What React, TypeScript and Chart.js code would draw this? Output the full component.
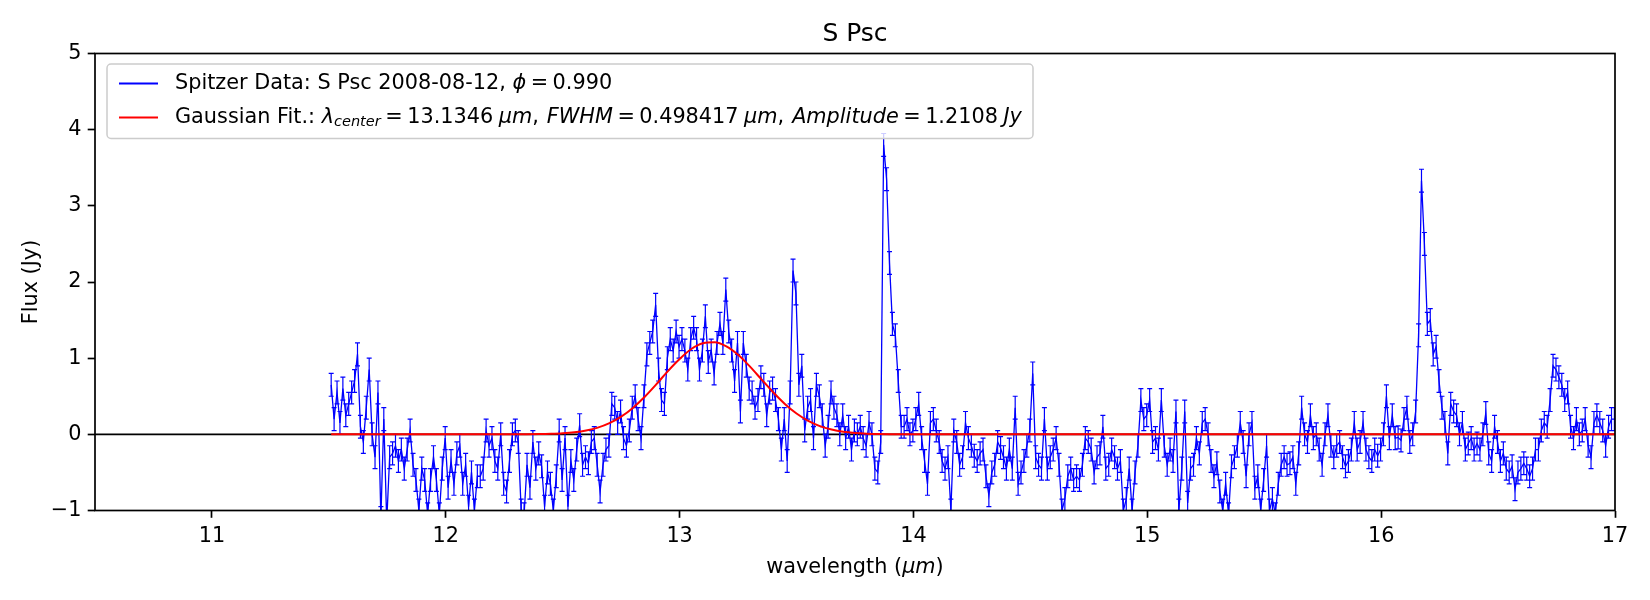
import React, { useEffect, useRef } from 'react';
import { Chart, registerables } from 'chart.js';

Chart.register(...registerables);

// wavelength grid of the Spitzer spectrum (um)
const WL_START = 11.51;
const WL_STEP = 0.0125;

// flux (Jy)
const FLUX_1150_1240 = [
  0.65, 0.2, 0.55, 0.15, 0.6, 0.25, 0.4, 0.55, 0.7, 1.05,
  0.1, -0.1, 0.35, 0.85, 0.0, -0.3, 0.55, -1.1, 0.2, -1.15,
  -0.3, -0.25, -0.15, -0.35, -0.2, -0.45, -0.2, 0.05, -0.4, -0.6,
  -1.0, -0.45, -0.6, -1.05, -0.6, -0.3, -0.6, -1.05, -0.45, -0.05,
  -0.7, -0.35, -0.65, -0.25, -0.15, -0.65, -0.4, -0.95, -0.5, -1.0,
  -0.55, -0.55, -0.45, 0.05, -0.15, -0.05, -0.35, -0.45, 0.0, -0.65,
  -0.75, -0.35, 0.0, 0.05, -0.1, -1.0, -1.05, -0.4, -0.7, -0.1,
  -0.45, -0.25,
];
const FLUX_1241_1331 = [
  -0.42, -0.95, -0.5, -0.65, -1.0, -0.55, 0.05, -0.6, -0.05, -0.95,
  -0.35, -0.6, -0.2, 0.12, -0.4, -0.3, -0.38, -0.1, -0.05, -0.4,
  -0.75, -0.4, -0.2, -0.15, 0.4, 0.35, 0.15, 0.3, -0.05, -0.15,
  0.05, 0.35, 0.5, 0.2, -0.05, 0.5, 1.05, 1.2, 1.35, 1.7,
  0.85, 0.45, 0.4, 1.0, 1.25, 1.1, 1.35, 1.15, 1.25, 1.1,
  0.85, 1.25, 1.4, 1.25, 0.85, 1.1, 1.55, 0.95, 1.1, 0.8,
  1.2, 1.45, 1.2, 1.9, 1.35, 1.1, 0.7, 1.2, 0.3, 1.2,
  0.9, 0.6, 0.55,
];
const FLUX_1332_1424 = [
  0.35, 0.45, 0.75, 0.65, 0.25, 0.55, 0.6, 0.45, 0.2, -0.2,
  0.2, -0.35, 0.55, 2.15, 1.85, 0.65, 0.9, 0.05, 0.35, 0.45,
  -0.05, 0.65, 0.5, 0.25, -0.15, 0.1, 0.55, 0.35, 0.25, 0.0,
  0.25, -0.05, 0.1, -0.2, 0.05, 0.0, 0.1, -0.05, -0.15, 0.15,
  0.0, -0.45, -0.5, -0.1, 3.8, 3.35, 2.25, 1.45, 1.3, 0.7,
  0.1, 0.1, 0.2, 0.0, 0.05, 0.2, 0.4, -0.05, -0.35, -0.65,
  0.15, 0.2, 0.05, -0.1, -0.35, -0.45, -0.3, -1.0, 0.05, -0.1,
  -0.4, -0.3, 0.15, -0.05,
];
const FLUX_1425_1515 = [
  -0.15, -0.28, -0.35, -0.25, -0.2, -0.55, -0.8, -0.5, -0.4, -0.1,
  -0.18, -0.3, -0.45, -0.2, -0.45, 0.35, -0.65, -0.5, -0.35, -0.15,
  0.05, 0.8, -0.3, -0.4, -0.45, 0.2, -0.45, -0.3, -0.2, -0.05,
  -0.4, -1.0, -0.85, -0.55, -0.45, -0.6, -0.55, -0.6, -0.4, -0.05,
  -0.1, -0.2, -0.5, -0.3, -0.25, 0.1, -0.45, -0.4, -0.2, -0.3,
  -0.45, -0.35, -1.0, -0.85, -0.45, -1.0, -0.5, -0.15, 0.45, 0.2,
  0.25, 0.45, -0.1, -0.05, -0.2, 0.45, -0.15, -0.4, -0.2, -0.35,
  0.3, -1.0, -0.45,
];
const FLUX_1516_1606 = [
  0.3, -0.9, -0.45, -0.4, -0.05, -0.25, 0.15, 0.2, 0.0, -0.35,
  -0.55, -0.38, -0.75, -1.0, -0.65, -1.05, -0.42, -0.3, -0.15, 0.15,
  -0.1, -0.55, 0.0, 0.15, -0.7, -0.55, -1.0, -0.6, -0.15, -1.0,
  -0.85, -1.05, -0.65, -0.4, -0.3, -0.4, -0.38, -0.3, -0.65, -0.25,
  0.35, 0.0, -0.1, 0.25, -0.05, 0.0, -0.2, -0.4, 0.0, 0.25,
  -0.15, -0.3, -0.15, -0.1, -0.3, -0.42, -0.35, -0.2, 0.15, -0.2,
  -0.1, 0.15, -0.2, -0.3, -0.35, -0.2, -0.28, -0.2, 0.0, 0.5,
  -0.05, 0.25, -0.05,
];
const FLUX_1607_1700 = [
  -0.04, -0.08, 0.2, 0.35, -0.1, 0.0, 0.3, 1.3, 3.33, 2.5,
  1.45, 1.5, 1.05, 1.15, 0.7, 0.35, 0.15, -0.25, 0.4, 0.3,
  0.25, 0.0, 0.15, -0.2, -0.12, -0.05, -0.2, -0.12, -0.2, 0.0,
  0.28, -0.25, -0.35, 0.1, -0.1, -0.35, -0.25, -0.45, -0.5, -0.42,
  -0.72, -0.5, -0.45, -0.38, -0.45, -0.55, -0.45, -0.2, -0.2, 0.05,
  0.15, 0.1, 0.45, 0.9, 0.85, 0.75, 0.65, 0.45, 0.55, 0.1,
  -0.05, 0.2, 0.0, 0.05, 0.2, -0.15, -0.3, 0.15, 0.25, 0.15,
  0.05, -0.15, 0.1, 0.2, 0.2,
];
const FLUX_ERR = 0.15;

// gaussian fit curve
const FIT_WL = [
  11.51, 12.3, 12.4, 12.45, 12.5, 12.55, 12.6, 12.65, 12.7, 12.75,
  12.8, 12.85, 12.9, 12.95, 13.0, 13.05, 13.1, 13.15, 13.2, 13.25,
  13.3, 13.35, 13.4, 13.45, 13.5, 13.55, 13.6, 13.65, 13.7, 13.75,
  13.8, 13.85, 13.95, 17.0,
];
const FIT_FLUX = [
  0, 0, 0.003, 0.007, 0.014, 0.027, 0.05, 0.088, 0.147, 0.233,
  0.347, 0.49, 0.655, 0.83, 0.989, 1.12, 1.195, 1.208, 1.154, 1.044,
  0.892, 0.722, 0.552, 0.399, 0.273, 0.177, 0.108, 0.063, 0.034, 0.018,
  0.009, 0.004, 0.001, 0,
];

const X_TICKS = [11, 12, 13, 14, 15, 16, 17];
const Y_TICKS = [-1, 0, 1, 2, 3, 4, 5];

const FONT = "'DejaVu Sans', sans-serif";
const FS = 20.8;

const FLUX = [
  ...FLUX_1150_1240, ...FLUX_1241_1331, ...FLUX_1332_1424,
  ...FLUX_1425_1515, ...FLUX_1516_1606, ...FLUX_1607_1700,
];
const WL = FLUX.map((_, i) => WL_START + i * WL_STEP);

// text piece: italic / subscript / extra gap after (px)
type Seg = { t: string; it?: boolean; sub?: boolean; gap?: number };

function drawSegs(ctx: CanvasRenderingContext2D, segs: Seg[], x: number, y: number, measureOnly = false) {
  let cx = x;
  for (const s of segs) {
    const size = s.sub ? FS * 0.7 : FS;
    ctx.font = `${s.it ? 'italic ' : ''}${size}px ${FONT}`;
    if (!measureOnly && s.t) ctx.fillText(s.t, cx, s.sub ? y + 5 : y);
    cx += (s.t ? ctx.measureText(s.t).width : 0) + (s.gap || 0);
  }
  return cx - x;
}

const EQ: Seg[] = [{ t: '', gap: 4.5 }, { t: '=', gap: 4.5 }];

const LEGEND_ROWS: { color: string; segs: Seg[] }[] = [
  {
    color: '#0000ff',
    segs: [{ t: 'Spitzer Data: S Psc 2008-08-12, ' }, { t: 'ϕ', it: true }, ...EQ, { t: '0.990' }],
  },
  {
    color: '#ff0000',
    segs: [
      { t: 'Gaussian Fit.: ' }, { t: 'λ', it: true }, { t: 'center', it: true, sub: true },
      ...EQ, { t: '13.1346', gap: 5.5 }, { t: 'μm', it: true }, { t: ',', gap: 8 }, { t: 'FWHM', it: true },
      ...EQ, { t: '0.498417', gap: 5.5 }, { t: 'μm', it: true }, { t: ',', gap: 8 }, { t: 'Amplitude', it: true },
      ...EQ, { t: '1.2108', gap: 5.5 }, { t: 'Jy', it: true },
    ],
  },
];

const decorPlugin = {
  id: 'decor',
  afterDatasetDraw(chart: any, args: any) {
    if (args.index !== 1) return;
    const { ctx, chartArea: a, scales } = chart;
    const x = scales.x, y = scales.y;
    ctx.save();
    ctx.beginPath();
    ctx.rect(a.left, a.top, a.right - a.left, a.bottom - a.top);
    ctx.clip();
    ctx.strokeStyle = '#0000ff';
    ctx.lineWidth = 1.2;
    ctx.beginPath();
    FLUX.forEach((v, i) => {
      const px = x.getPixelForValue(WL[i]);
      const t = y.getPixelForValue(v + FLUX_ERR);
      const b = y.getPixelForValue(v - FLUX_ERR);
      ctx.moveTo(px, t); ctx.lineTo(px, b);
      ctx.moveTo(px - 2.5, t); ctx.lineTo(px + 2.5, t);
      ctx.moveTo(px - 2.5, b); ctx.lineTo(px + 2.5, b);
    });
    ctx.stroke();
    ctx.restore();
  },
  afterDatasetsDraw(chart: any) {
    const { ctx, chartArea: a } = chart;
    ctx.save();
    ctx.strokeStyle = '#000';
    ctx.lineWidth = 1.7;
    ctx.strokeRect(a.left, a.top, a.right - a.left, a.bottom - a.top);
    ctx.restore();
  },
  afterDraw(chart: any) {
    const { ctx, chartArea: a } = chart;
    ctx.save();
    // legend box
    const lx = a.left + 12, ly = a.top + 10.5, lw = 926, lh = 74.5;
    ctx.beginPath();
    ctx.roundRect(lx, ly, lw, lh, 4);
    ctx.fillStyle = 'rgba(255,255,255,0.8)';
    ctx.fill();
    ctx.strokeStyle = '#cccccc';
    ctx.lineWidth = 1.5;
    ctx.stroke();
    ctx.textBaseline = 'middle';
    ctx.fillStyle = '#000';
    LEGEND_ROWS.forEach((row, k) => {
      const ry = ly + 19.5 + k * 34;
      ctx.strokeStyle = row.color;
      ctx.lineWidth = 2;
      ctx.beginPath();
      ctx.moveTo(lx + 12, ry);
      ctx.lineTo(lx + 51, ry);
      ctx.stroke();
      drawSegs(ctx, row.segs, lx + 68, ry);
    });
    // x axis title
    const xt: Seg[] = [{ t: 'wavelength (' }, { t: 'μm', it: true }, { t: ')' }];
    const w = drawSegs(ctx, xt, 0, 0, true);
    drawSegs(ctx, xt, (a.left + a.right) / 2 - w / 2, 568);
    ctx.restore();
  },
};

const minusFmt = (v: number | string) => {
  const n = Number(v);
  return n < 0 ? '\u2212' + Math.abs(n) : String(n);
};

const App: React.FC = () => {
  const canvasRef = useRef<HTMLCanvasElement>(null);

  useEffect(() => {
    document.body.style.margin = '0';
    const ctx = canvasRef.current!.getContext('2d')!;
    const chart = new Chart(ctx, {
      type: 'scatter',
      data: {
        datasets: [
          {
            label: 'Gaussian Fit',
            data: FIT_WL.map((w, i) => ({ x: w, y: FIT_FLUX[i] })),
            showLine: true,
            borderColor: '#ff0000',
            borderWidth: 2,
            pointRadius: 0,
            cubicInterpolationMode: 'monotone',
          },
          {
            label: 'Spitzer Data',
            data: WL.map((w, i) => ({ x: w, y: FLUX[i] })),
            showLine: true,
            borderColor: '#0000ff',
            borderWidth: 1.3,
            pointRadius: 0,
          },
          {
            label: 'zero',
            data: [{ x: 10.5, y: 0 }, { x: 17, y: 0 }],
            showLine: true,
            borderColor: '#000000',
            borderWidth: 1.8,
            pointRadius: 0,
          },
        ],
      },
      options: {
        animation: false,
        responsive: false,
        devicePixelRatio: 1,
        events: [],
        layout: { padding: { left: 0, right: 35, top: 0, bottom: 0 } },
        plugins: {
          legend: { display: false },
          tooltip: { enabled: false },
          title: {
            display: true,
            text: 'S Psc',
            color: '#000',
            fullSize: false,
            font: { family: FONT, size: 25, weight: 'normal', lineHeight: 1.2 },
            padding: { top: 19, bottom: 4.5 },
          },
        },
        scales: {
          x: {
            type: 'linear',
            min: 10.5,
            max: 17,
            afterBuildTicks: (s: any) => { s.ticks = X_TICKS.map((v) => ({ value: v })); },
            afterFit: (s: any) => { s.height = 89.5; },
            grid: { display: true, drawOnChartArea: false, drawTicks: true, tickLength: 7.3, tickWidth: 1.7, tickColor: '#000' },
            border: { display: false },
            ticks: { autoSkip: false, maxRotation: 0, padding: 6, color: '#000', font: { family: FONT, size: FS }, callback: minusFmt },
          },
          y: {
            type: 'linear',
            min: -1,
            max: 5,
            afterBuildTicks: (s: any) => { s.ticks = Y_TICKS.map((v) => ({ value: v })); },
            afterFit: (s: any) => { s.width = 95; },
            grid: { display: true, drawOnChartArea: false, drawTicks: true, tickLength: 7.3, tickWidth: 1.7, tickColor: '#000' },
            border: { display: false },
            ticks: { autoSkip: false, padding: 6.2, color: '#000', font: { family: FONT, size: FS }, callback: minusFmt },
            title: {
              display: true,
              text: 'Flux (Jy)',
              color: '#000',
              font: { family: FONT, size: FS, lineHeight: 1.2 },
              padding: { top: 19.5, bottom: 0 },
            },
          },
        },
      },
      plugins: [decorPlugin],
    } as any);
    return () => chart.destroy();
  }, []);

  return <canvas ref={canvasRef} width={1650} height={600} style={{ width: 1650, height: 600, display: 'block' }} />;
};

export default App;
